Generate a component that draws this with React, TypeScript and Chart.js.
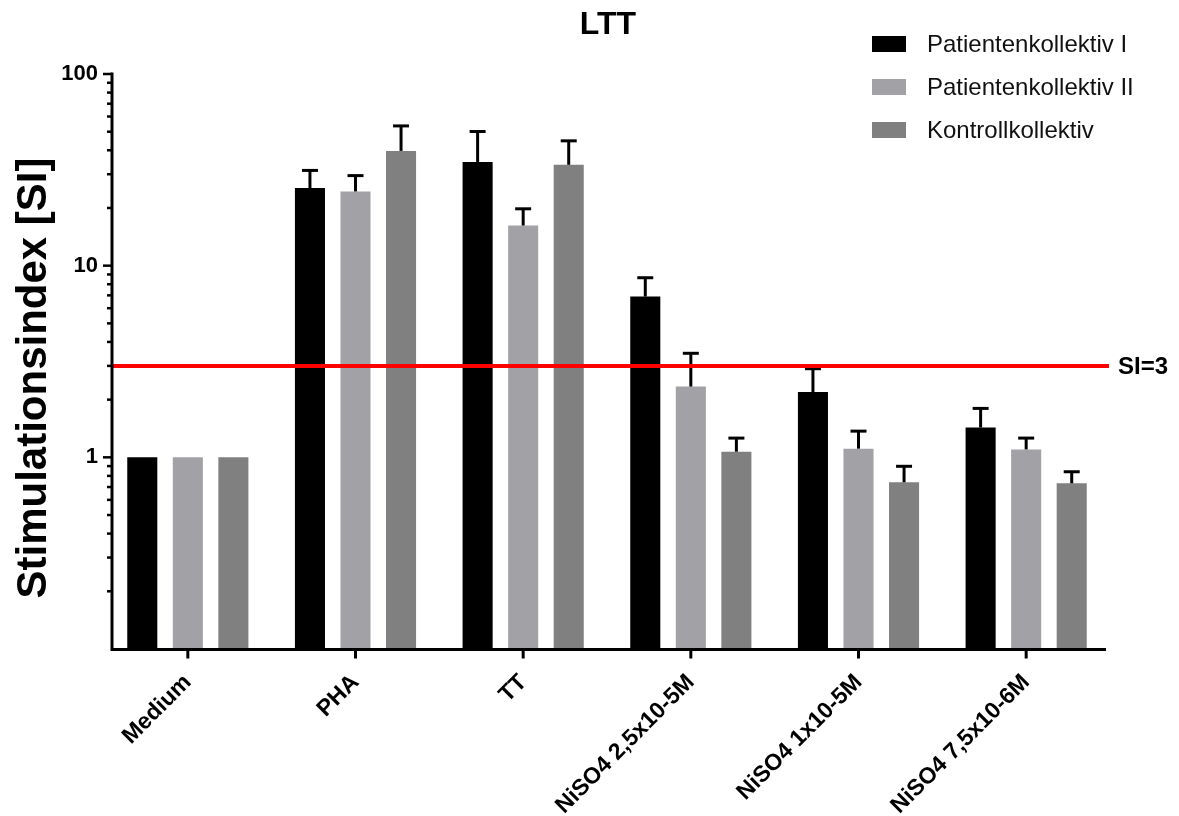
import React, { useEffect, useRef } from 'react';
import { Chart, registerables } from 'chart.js';

Chart.register(...registerables);

// Stimulation index per stimulus and cohort (mean and upper SD)
const categories = ['Medium', 'PHA', 'TT', 'NiSO4 2,5x10-5M', 'NiSO4 1x10-5M', 'NiSO4 7,5x10-6M'];
const seriesLabels = ['Patientenkollektiv I', 'Patientenkollektiv II', 'Kontrollkollektiv'];

const patientenI = [1, 25.4, 34.7, 6.9, 2.19, 1.43];
const patientenISD = [0, 6.0, 15.4, 1.75, 0.71, 0.37];

const patientenII = [1, 24.4, 16.2, 2.34, 1.11, 1.1];
const patientenIISD = [0, 5.1, 3.6, 1.15, 0.26, 0.16];

const kontrolle = [1, 39.7, 33.6, 1.07, 0.741, 0.732];
const kontrolleSD = [0, 13.9, 11.2, 0.19, 0.157, 0.109];

const seriesColors = ['#000000', '#a2a1a6', '#808080'];
const yTickValues = [1, 10, 100];
const yMin = 0.1;
const yMax = 100;
const thresholdSI = 3;
const thresholdLabel = 'SI=3';
const chartTitle = 'LTT';
const yAxisTitle = 'Stimulationsindex [SI]';

const FONT = '"Liberation Sans", Arial, Helvetica, sans-serif';

const seriesValues = [patientenI, patientenII, kontrolle];
const seriesSD = [patientenISD, patientenIISD, kontrolleSD];

const W = 1179;
const H = 816;
const AXIS_X = 112; // where the y axis line is drawn

const decorPlugin = {
  id: 'ltt-decor',
  afterDatasetsDraw(chart: any) {
    const ctx = chart.ctx as CanvasRenderingContext2D;
    const y = chart.scales.y;
    const area = chart.chartArea;

    // error bars (upper only)
    ctx.save();
    ctx.strokeStyle = '#000';
    ctx.lineWidth = 3;
    ctx.lineCap = 'butt';
    chart.data.datasets.forEach((_ds: any, i: number) => {
      const meta = chart.getDatasetMeta(i);
      meta.data.forEach((el: any, j: number) => {
        const sd = seriesSD[i][j];
        if (!sd) return;
        const top = y.getPixelForValue(seriesValues[i][j] + sd);
        ctx.beginPath();
        ctx.moveTo(el.x, el.y);
        ctx.lineTo(el.x, top);
        ctx.stroke();
        ctx.beginPath();
        ctx.moveTo(el.x - 8, top);
        ctx.lineTo(el.x + 8, top);
        ctx.stroke();
      });
    });
    ctx.restore();

    // threshold line
    const ty = y.getPixelForValue(thresholdSI);
    ctx.save();
    ctx.strokeStyle = '#ff0000';
    ctx.lineWidth = 4;
    ctx.beginPath();
    ctx.moveTo(AXIS_X, ty);
    ctx.lineTo(area.right - 1, ty);
    ctx.stroke();
    ctx.fillStyle = '#000';
    ctx.font = `bold 24px ${FONT}`;
    ctx.textAlign = 'left';
    ctx.textBaseline = 'middle';
    ctx.fillText(thresholdLabel, area.right + 8, ty + 1);
    ctx.restore();
  },
  afterDraw(chart: any) {
    const ctx = chart.ctx as CanvasRenderingContext2D;
    const x = chart.scales.x;
    const y = chart.scales.y;
    const area = chart.chartArea;
    const bottom = area.bottom + 0.5;

    ctx.save();
    ctx.strokeStyle = '#000';
    ctx.fillStyle = '#000';

    // axis lines
    ctx.lineWidth = 3;
    ctx.beginPath();
    ctx.moveTo(AXIS_X, area.top - 1.5);
    ctx.lineTo(AXIS_X, bottom);
    ctx.lineTo(area.right - 4, bottom);
    ctx.stroke();

    // y ticks: majors at decades, minors in between
    ctx.lineWidth = 2.5;
    for (let d = yMin; d <= yMax * 1.0001; d *= 10) {
      const py = y.getPixelForValue(d);
      if (d > yMin * 1.5) {
        ctx.beginPath();
        ctx.moveTo(AXIS_X, py);
        ctx.lineTo(AXIS_X - 9, py);
        ctx.stroke();
      }
      if (d < yMax * 0.999) {
        for (let k = 2; k <= 9; k++) {
          const pm = y.getPixelForValue(d * k);
          ctx.beginPath();
          ctx.moveTo(AXIS_X, pm);
          ctx.lineTo(AXIS_X - 5, pm);
          ctx.stroke();
        }
      }
    }

    // x ticks at category centres
    ctx.lineWidth = 3;
    categories.forEach((_c, i) => {
      const px = x.getPixelForValue(i);
      ctx.beginPath();
      ctx.moveTo(px, bottom + 1.5);
      ctx.lineTo(px, bottom + 9);
      ctx.stroke();
    });

    // title
    ctx.font = `bold 32px ${FONT}`;
    ctx.textAlign = 'center';
    ctx.textBaseline = 'alphabetic';
    ctx.fillText(chartTitle, 608, 34);

    // y axis title
    ctx.save();
    ctx.translate(46, 378);
    ctx.rotate(-Math.PI / 2);
    ctx.font = `bold 42px ${FONT}`;
    ctx.textAlign = 'center';
    ctx.textBaseline = 'alphabetic';
    ctx.fillText(yAxisTitle, 0, 0);
    ctx.restore();

    // legend
    ctx.font = `24px ${FONT}`;
    ctx.textAlign = 'left';
    ctx.textBaseline = 'middle';
    chart.data.datasets.forEach((ds: any, i: number) => {
      const cy = 44 + i * 43;
      ctx.fillStyle = ds.backgroundColor;
      ctx.fillRect(872, cy - 8, 34, 16);
      ctx.fillStyle = '#111';
      ctx.fillText(ds.label, 927, cy + 1);
    });

    ctx.restore();
  },
};

export default function App() {
  const canvasRef = useRef<HTMLCanvasElement | null>(null);

  useEffect(() => {
    const canvas = canvasRef.current;
    if (!canvas) return;
    const chart = new Chart(canvas, {
      type: 'bar',
      data: {
        labels: categories,
        datasets: seriesLabels.map((label, i) => ({
          label,
          data: seriesValues[i],
          backgroundColor: seriesColors[i],
          borderWidth: 0,
          categoryPercentage: 0.815,
          barPercentage: 0.66,
        })),
      },
      options: {
        responsive: false,
        animation: false,
        devicePixelRatio: 1,
        layout: { padding: { left: 0, right: 69, top: 74, bottom: 0 } },
        plugins: {
          legend: { display: false },
          title: { display: false },
          tooltip: { enabled: false },
        },
        scales: {
          x: {
            type: 'category',
            offset: true,
            grid: { display: false, drawTicks: false },
            border: { display: false },
            ticks: {
              color: '#000',
              font: { family: FONT, size: 23, weight: 'bold' },
              minRotation: 45,
              maxRotation: 45,
              padding: 20,
              autoSkip: false,
            },
            afterFit: (scale: any) => {
              scale.height = 167;
            },
          },
          y: {
            type: 'logarithmic',
            min: yMin,
            max: yMax,
            grid: { display: false, drawTicks: false },
            border: { display: false },
            afterBuildTicks: (scale: any) => {
              scale.ticks = yTickValues.map((v) => ({ value: v, major: true }));
            },
            ticks: {
              color: '#000',
              font: { family: FONT, size: 22, weight: 'bold' },
              padding: 6,
              callback: (v: any) => String(v),
            },
            afterFit: (scale: any) => {
              scale.width = 104;
            },
          },
        },
      },
      plugins: [decorPlugin],
    });
    return () => chart.destroy();
  }, []);

  return (
    <div style={{ position: 'absolute', left: 0, top: 0, width: W, height: H, background: '#fff' }}>
      <canvas ref={canvasRef} width={W} height={H} style={{ width: W, height: H, display: 'block' }} />
    </div>
  );
}
